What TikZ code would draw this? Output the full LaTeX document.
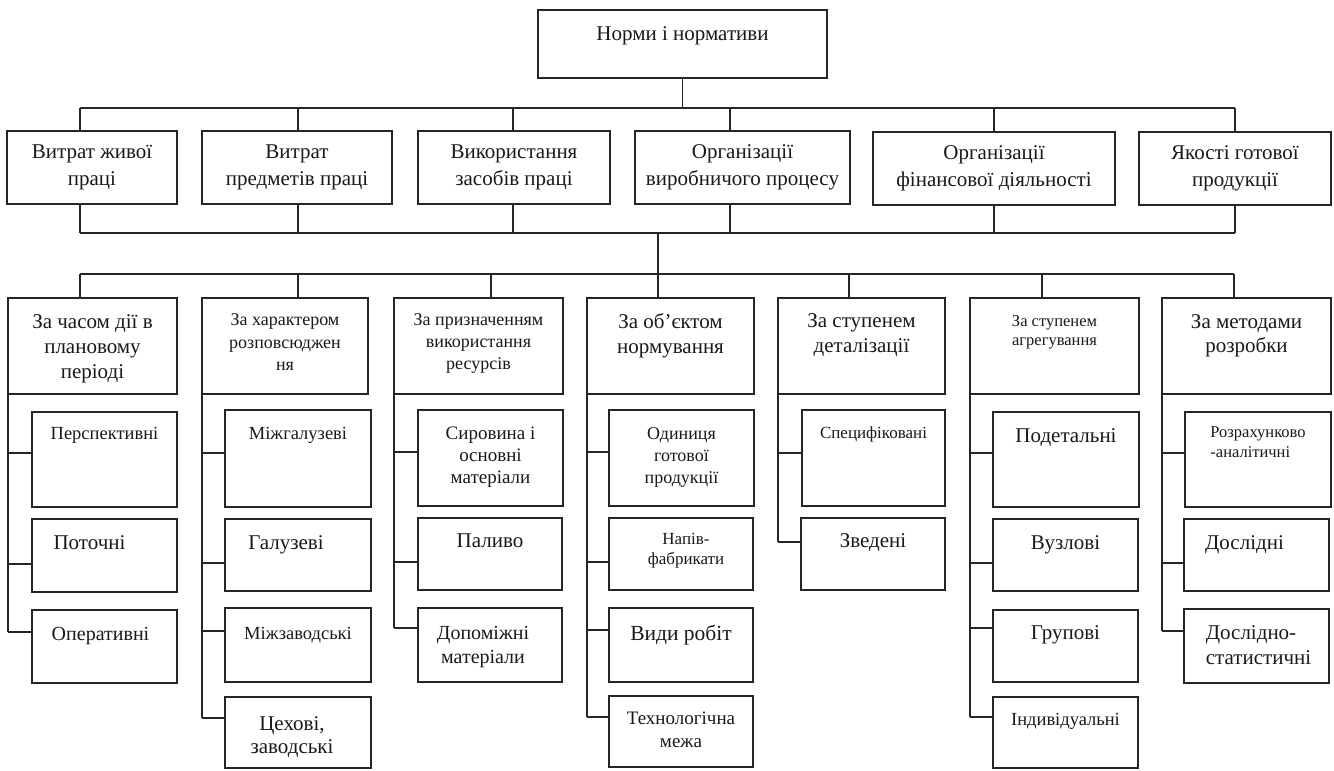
\documentclass[tikz,border=0pt]{standalone}
\usepackage{fontspec}
\setmainfont{Liberation Serif}
\newcommand\bx[5]{\node[box, minimum width={#4-#2}, minimum height={#5-#3}] (#1) at ({(#2+#4)/2},{(#3+#5)/2}) {};}
\newcommand\tx[6]{\node[txt, anchor=north, font=\fontsize{#2}{#3}\selectfont, xshift=#5pt] (#1t) at ([yshift=-#4pt]#1.north) {#6};}
\newcommand\tc[4]{\node[txt, font=\fontsize{#2}{#3}\selectfont] (#1t) at (#1) {#4};}
\newcommand\tk[3]{\draw[conn] (#1.south west |- 0,#3) -- (#2.west |- 0,#3);}
\begin{document}
\begin{tikzpicture}[x=1pt,y=-1pt,
  box/.style={draw=black!85, line width=1.4pt, inner sep=0pt, outer sep=0pt, rectangle},
  txt/.style={inner sep=0pt, align=center, text=black!90},
  conn/.style={draw=black!85, line width=1.4pt}]
\useasboundingbox[fill=white] (0,0) rectangle (1334,771);

% top box
\bx{top}{538}{10}{827}{78}
\tx{top}{21}{25}{16}{0}{Норми і нормативи}

% first row
\bx{r1}{7}{131}{177}{204}
\bx{r2}{202}{131}{392}{204}
\bx{r3}{418}{131}{610}{204}
\bx{r4}{635}{131}{850}{204}
\bx{r5}{873}{132}{1115}{205}
\bx{r6}{1139}{132}{1331}{205}
\tc{r1}{21}{27}{Витрат живої\\праці}
\tc{r2}{21}{27}{Витрат\\предметів праці}
\tc{r3}{21}{27}{Використання\\засобів праці}
\tc{r4}{21}{27}{Організації\\виробничого процесу}
\tc{r5}{21}{27}{Організації\\фінансової діяльності}
\tc{r6}{21}{27}{Якості готової\\продукції}

% headers
\bx{h1}{8}{298}{177}{394}
\bx{h2}{202}{298}{368}{394}
\bx{h3}{394}{298}{563}{394}
\bx{h4}{587}{298}{754}{394}
\bx{h5}{778}{298}{945}{394}
\bx{h6}{970}{298}{1139}{394}
\bx{h7}{1162}{298}{1331}{394}
\tx{h1}{21}{25}{16}{0}{За часом дії в\\плановому\\періоді}
\tx{h2}{18}{22.5}{15.6}{0}{За характером\\розповсюджен\\ня}
\tx{h3}{18}{22}{15.6}{0}{За призначенням\\використання\\ресурсів}
\tx{h4}{21}{25}{15.5}{0}{За об'єктом\\нормування}
\tx{h5}{21}{25}{15.5}{0}{За ступенем\\деталізації}
\tx{h6}{16.5}{19.5}{17}{0}{За ступенем\\агрегування}
\tx{h7}{21}{24}{16}{0}{За методами\\розробки}

% column 1
\bx{c11}{32}{412}{177}{507}
\bx{c12}{32}{519}{177}{592}
\bx{c13}{32}{610}{177}{683}
\tx{c11}{18.5}{22}{15}{0}{Перспективні}
\tx{c12}{21}{25}{16.5}{-15}{Поточні}
\tx{c13}{20}{24}{17}{-4}{Оперативні}
% column 2
\bx{c21}{225}{410}{371}{507}
\bx{c22}{225}{519}{371}{591}
\bx{c23}{225}{608}{371}{682}
\bx{c24}{225}{697}{371}{768}
\tx{c21}{18.5}{22}{17}{0}{Міжгалузеві}
\tx{c22}{21}{25}{16.5}{-12}{Галузеві}
\tx{c23}{18.5}{22}{19}{0}{Міжзаводські}
\tx{c24}{21}{22.5}{19.5}{-6}{Цехові,\\заводські}
% column 3
\bx{c31}{418}{410}{563}{506}
\bx{c32}{418}{518}{562}{590}
\bx{c33}{418}{608}{562}{682}
\tx{c31}{19}{22}{17}{0}{Сировина і\\основні\\матеріали}
\tx{c32}{21}{25}{15.5}{0}{Паливо}
\tx{c33}{20}{24}{18}{-7}{Допоміжні\\матеріали}
% column 4
\bx{c41}{609}{410}{754}{506}
\bx{c42}{609}{518}{753}{590}
\bx{c43}{609}{608}{753}{682}
\bx{c44}{609}{696}{753}{767}
\tx{c41}{18}{22}{17}{0}{Одиниця\\готової\\продукції}
\tx{c42}{17}{20}{15}{5}{Напів-\\фабрикати}
\tx{c43}{21.5}{25}{17}{0}{Види робіт}
\tx{c44}{19}{23}{16}{0}{Технологічна\\межа}
% column 5
\bx{c51}{802}{410}{945}{506}
\bx{c52}{801}{518}{945}{590}
\tx{c51}{17}{20}{16}{0}{Специфіковані}
\tx{c52}{21}{25}{15.5}{0}{Зведені}
% column 6
\bx{c61}{993}{412}{1139}{507}
\bx{c62}{993}{519}{1138}{591}
\bx{c63}{993}{610}{1138}{682}
\bx{c64}{993}{697}{1138}{768}
\tx{c61}{21}{25}{16.5}{0}{Подетальні}
\tx{c62}{21}{25}{16.5}{0}{Вузлові}
\tx{c63}{21}{25}{15.5}{0}{Групові}
\tx{c64}{18.5}{22}{16}{0}{Індивідуальні}
% column 7
\bx{c71}{1185}{412}{1331}{507}
\bx{c72}{1184}{519}{1329}{591}
\bx{c73}{1184}{609}{1329}{683}
\node[txt, align=left, anchor=north, font=\fontsize{16.5}{20}\selectfont] (c71t) at ([yshift=-14.6pt]c71.north) {Розрахунково\\-аналітичні};
\tx{c72}{21}{25}{16.5}{-12}{Дослідні}
\node[txt, align=left, anchor=north, font=\fontsize{21}{25}\selectfont, xshift=2pt] (c73t) at ([yshift=-16.5pt]c73.north) {Дослідно-\\статистичні};

% buses
\coordinate (b1) at (0,108);
\coordinate (b2) at (0,233);
\coordinate (d1) at (80,108);
\coordinate (d2) at (298,108);
\coordinate (d3) at (513,108);
\coordinate (d4) at (730,108);
\coordinate (d5) at (994,108);
\coordinate (d6) at (1235,108);
\draw[conn] (top.south) -- (top.south |- b1);
\draw[conn] (d1) -- (d6);
\draw[conn] (d1 |- b2) -- (d6 |- b2);
\foreach \i in {1,...,6}{
  \draw[conn] (d\i) -- (d\i |- r\i.north);
  \draw[conn] (d\i |- r\i.south) -- (d\i |- b2);
}
\coordinate (e1) at (80,274);
\coordinate (e2) at (298,274);
\coordinate (e3) at (491,274);
\coordinate (e4) at (658,274);
\coordinate (e5) at (849,274);
\coordinate (e6) at (1042,274);
\coordinate (e7) at (1234,274);
\draw[conn] (e4 |- b2) -- (e4);
\draw[conn] (e1) -- (e7);
\foreach \i in {1,...,7}{
  \draw[conn] (e\i) -- (e\i |- h\i.north);
}

% spines and ticks
\draw[conn] (h1.south west) -- (h1.south west |- 0,632);
\tk{h1}{c11}{453}\tk{h1}{c12}{564}\tk{h1}{c13}{632}
\draw[conn] (h2.south west) -- (h2.south west |- 0,718);
\tk{h2}{c21}{453}\tk{h2}{c22}{563}\tk{h2}{c23}{631}\tk{h2}{c24}{718}
\draw[conn] (h3.south west) -- (h3.south west |- 0,628);
\tk{h3}{c31}{452}\tk{h3}{c32}{562}\tk{h3}{c33}{628}
\draw[conn] (h4.south west) -- (h4.south west |- 0,717);
\tk{h4}{c41}{452}\tk{h4}{c42}{562}\tk{h4}{c43}{630}\tk{h4}{c44}{717}
\draw[conn] (h5.south west) -- (h5.south west |- 0,542);
\tk{h5}{c51}{453}\tk{h5}{c52}{542}
\draw[conn] (h6.south west) -- (h6.south west |- 0,717);
\tk{h6}{c61}{453}\tk{h6}{c62}{563}\tk{h6}{c63}{628}\tk{h6}{c64}{717}
\draw[conn] (h7.south west) -- (h7.south west |- 0,631);
\tk{h7}{c71}{453}\tk{h7}{c72}{563}\tk{h7}{c73}{631}
\end{tikzpicture}
\end{document}
